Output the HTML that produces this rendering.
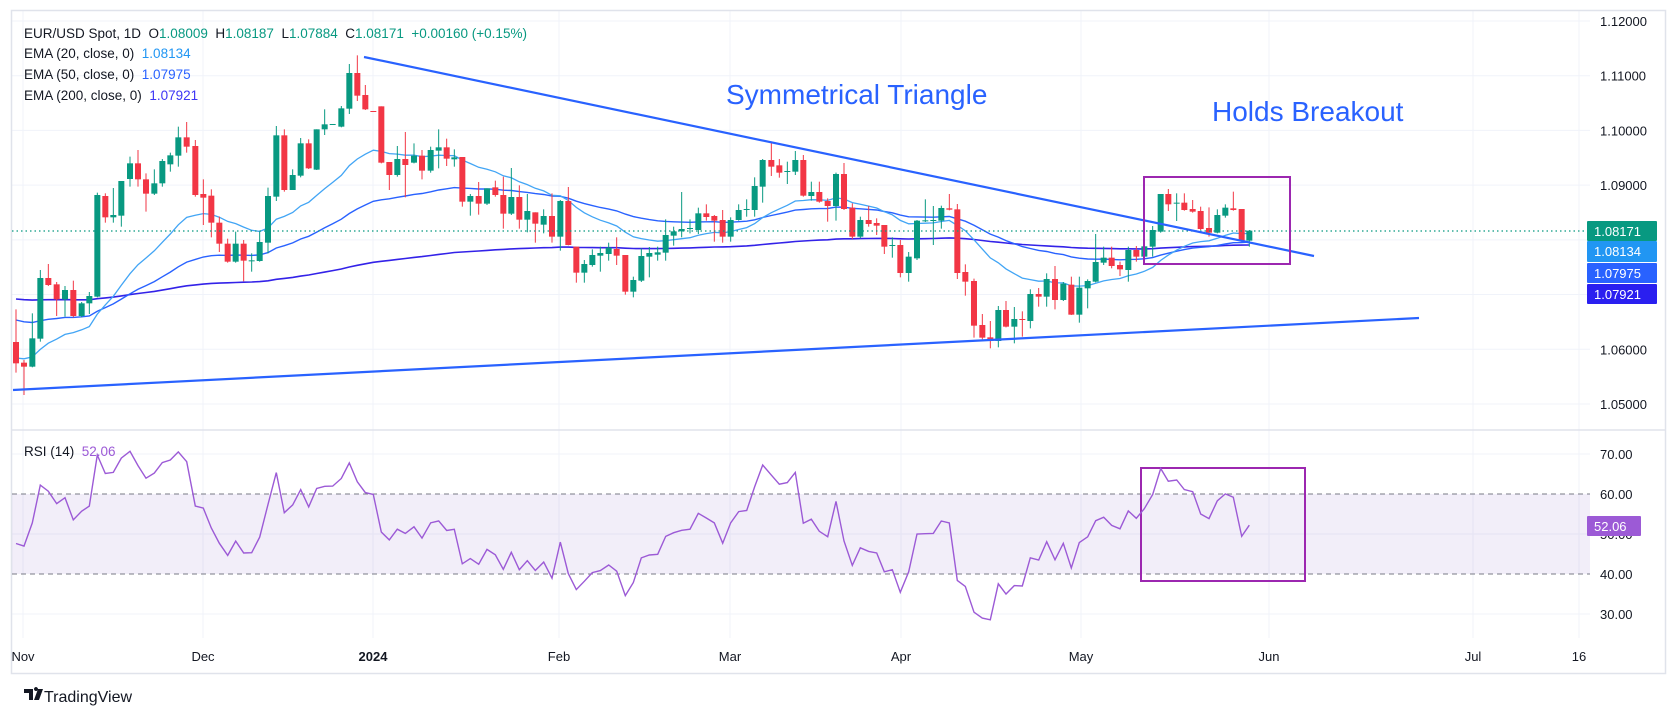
<!DOCTYPE html>
<html><head><meta charset="utf-8"><style>
html,body{margin:0;padding:0;background:#fff;}
body{width:1675px;height:718px;overflow:hidden;font-family:"Liberation Sans",sans-serif;}
svg text{font-family:"Liberation Sans",sans-serif;white-space:pre;}
</style></head><body>
<svg id="c" width="1675" height="718" xmlns="http://www.w3.org/2000/svg" xml:space="preserve">
<rect x="0" y="0" width="1675" height="718" fill="#fff"/>
<g id="grid" stroke="#f0f3fa" stroke-width="1"></g>
<rect x="11.5" y="10.5" width="1654" height="663" fill="none" stroke="#e0e3eb" stroke-width="1.5"/>
<line x1="12" y1="430" x2="1666" y2="430" stroke="#e0e3eb" stroke-width="1.5"/>
<rect x="12" y="494" width="1578" height="80" fill="#7e57c2" fill-opacity="0.1"/>
<line x1="12" y1="494" x2="1590" y2="494" stroke="#787b86" stroke-dasharray="5,4"/>
<line x1="12" y1="574" x2="1590" y2="574" stroke="#787b86" stroke-dasharray="5,4"/>
<g id="ema"></g>
<g id="candles"></g>
<line x1="12" y1="231" x2="1587" y2="231" stroke="#089981" stroke-dasharray="1.5,3" stroke-width="1.2"/>
<line x1="364" y1="57" x2="1314" y2="256" stroke="#2962ff" stroke-width="2.2"/>
<line x1="13" y1="390" x2="1419" y2="318" stroke="#2962ff" stroke-width="2.2"/>
<rect x="1144" y="177" width="146" height="87" fill="none" stroke="#9c27b0" stroke-width="2"/>
<rect x="1141" y="468" width="164" height="113" fill="none" stroke="#9c27b0" stroke-width="2"/>
<polyline id="rsi" fill="none" stroke="#9c5ad6" stroke-width="1.4"/>
<text x="726" y="104" font-size="28" fill="#2962ff">Symmetrical Triangle</text>
<text x="1212" y="121" font-size="28" fill="#2962ff">Holds Breakout</text>
<g font-size="13.5" fill="#131722">
<text x="24" y="38">EUR/USD Spot, 1D  O<tspan fill="#089981">1.08009</tspan>  H<tspan fill="#089981">1.08187</tspan>  L<tspan fill="#089981">1.07884</tspan>  C<tspan fill="#089981">1.08171</tspan>  <tspan fill="#089981">+0.00160 (+0.15%)</tspan></text>
<text x="24" y="58">EMA (20, close, 0)  <tspan fill="#2196f3">1.08134</tspan></text>
<text x="24" y="79">EMA (50, close, 0)  <tspan fill="#2962ff">1.07975</tspan></text>
<text x="24" y="100">EMA (200, close, 0)  <tspan fill="#3d35f5">1.07921</tspan></text>
<text x="24" y="456">RSI (14)  <tspan fill="#9c5ad6">52.06</tspan></text>
</g>
<g id="axis" font-size="13" fill="#131722"></g>
<g font-size="13" fill="#fff">
<rect x="1587" y="221" width="70" height="20" fill="#089981" rx="1"/><text x="1594" y="236">1.08171</text>
<rect x="1587" y="241" width="70" height="21" fill="#2196f3" rx="1"/><text x="1594" y="256">1.08134</text>
<rect x="1587" y="263" width="70" height="20" fill="#2962ff" rx="1"/><text x="1594" y="278">1.07975</text>
<rect x="1587" y="284" width="70" height="20" fill="#2a1ff0" rx="1"/><text x="1594" y="299">1.07921</text>
<rect x="1587" y="516" width="54" height="20" fill="#9c5ad6" rx="1"/><text x="1594" y="531">52.06</text>
</g>
<g transform="translate(24,689)"><path d="M0 0h9v11h-4v-7h-5z M10 11l4-11h5l-4 11z M10 0a2 2 0 1 1 0 .1" fill="#131722"/></g>
<text x="44" y="702" font-size="16" fill="#131722">TradingView</text>
</svg>
<script>
var NS="http://www.w3.org/2000/svg";
function el(t,a,p){var e=document.createElementNS(NS,t);for(var k in a)e.setAttribute(k,a[k]);p.appendChild(e);return e;}
var grid=document.getElementById('grid');
for(var k=0;k<8;k++){var y=21+k*54.71;el('line',{x1:12,y1:y,x2:1590,y2:y},grid);}
[454,534,614].forEach(function(y){el('line',{x1:12,y1:y,x2:1590,y2:y},grid);});
var mx=[[23,'Nov'],[203,'Dec'],[373,'2024'],[559,'Feb'],[730,'Mar'],[901,'Apr'],[1081,'May'],[1269,'Jun'],[1473,'Jul'],[1579,'16']];
var ax=document.getElementById('axis');
mx.forEach(function(m){el('line',{x1:m[0],y1:11,x2:m[0],y2:638},grid);var t=el('text',{x:m[0],y:661,'text-anchor':'middle'},ax);t.textContent=m[1];if(m[1]=='2024')t.setAttribute('font-weight','bold');});
var pl=['1.12000','1.11000','1.10000','1.09000','1.08000','1.07000','1.06000','1.05000'];
pl.forEach(function(s,i){var y=21+i*54.71;if(i==4||i==5)return;var t=el('text',{x:1600,y:y+5},ax);t.textContent=s;});
[[454,'70.00'],[494,'60.00'],[534,'50.00'],[574,'40.00'],[614,'30.00']].forEach(function(a){var t=el('text',{x:1600,y:a[0]+5},ax);t.textContent=a[1];});
var A=[[48,0,906,970,808,998],[72,0,968,980,960,1065],[97,1,895,980,820,982],[121,1,714,896,690,905],[145,0,714,735,672,738],[170,0,733,778,726,828],[195,1,750,778,738,830],[220,0,750,828,722,832],[245,1,790,828,786,832],[268,1,768,790,756,822],[292,1,465,770,458,772],[316,0,468,532,460,548],[340,1,525,532,444,548],[364,1,423,527,423,560],[390,1,370,417,350,440],[414,0,370,418,330,440],[438,0,418,461,400,515],[463,1,430,461,388,465],[487,1,363,430,357,440],[511,1,346,373,338,395],[535,1,292,347,260,380],[560,0,292,320,246,338],[586,0,318,465,300,470],[610,0,462,473,418,555],[634,0,467,548,448,592],[658,0,548,611,530,636],[683,0,611,665,596,668],[707,1,611,665,575,668],[731,0,611,662,600,724],[755,1,661,663,640,695],[779,1,606,663,575,665],[804,1,468,608,443,640],[829,1,286,470,258,483],[853,0,286,450,268,455],[878,1,405,450,388,450],[902,1,310,407,294,412],[926,0,310,385,298,387],[950,1,268,389,268,390],[974,1,253,268,208,285],[998,1,252,254,252,254],[1024,1,205,260,198,262],[1048,1,99,206,72,222],[1072,0,99,167,46,183],[1096,0,165,208,135,210],[1120,0,213,215,213,215],[1144,0,199,368,199,370],[1168,0,366,405,366,450],[1192,1,357,405,318,410],[1216,0,357,375,276,472],[1242,1,347,368,310,370],[1266,0,347,392,330,418],[1292,1,330,392,320,398],[1316,1,322,332,268,385],[1340,0,322,356,296,378]];
var B=[[73,1,172,178,148,200],[97,0,171,305,171,320],[121,1,288,305,282,347],[146,0,288,311,246,344],[171,1,265,311,265,315],[196,0,262,285,242,290],[220,0,285,341,230,386],[244,1,291,341,204,345],[268,0,291,359,256,386],[292,1,333,359,282,397],[316,0,337,371,337,428],[341,1,348,374,328,400],[366,0,348,410,280,428],[391,1,303,410,300,452],[415,0,303,435,261,436],[439,0,440,518,440,548],[463,1,492,518,480,548],[487,1,465,495,448,500],[511,1,459,467,440,515],[536,1,443,462,428,482],[560,0,447,467,412,495],[586,0,465,575,465,584],[610,1,540,575,530,592],[634,1,468,542,445,546],[658,1,459,470,441,532],[683,1,457,464,440,482],[707,1,405,458,358,482],[731,1,394,407,380,437],[755,1,387,394,276,412],[780,1,384,386,358,400],[805,1,340,390,323,402],[829,0,340,351,313,362],[853,0,348,362,345,425],[878,0,360,410,330,428],[902,1,360,410,352,425],[926,1,330,360,313,362],[950,1,327,329,298,350],[974,1,258,330,232,350],[998,1,180,260,177,308],[1024,0,180,200,125,228],[1048,0,196,218,177,233],[1072,1,213,215,185,252],[1096,1,180,215,153,225],[1120,0,180,287,165,290],[1144,1,276,288,245,302],[1168,0,276,305,245,308],[1193,0,303,318,295,365],[1218,1,222,318,218,362],[1242,0,222,327,189,330],[1267,0,323,410,310,417],[1291,1,360,410,350,415],[1316,0,360,372,318,380],[1340,0,369,377,355,405]];
var C=[[73,0,225,290,225,312],[97,1,285,287,262,323],[121,0,285,369,270,382],[146,1,320,369,306,395],[171,1,212,325,210,330],[196,1,211,213,148,216],[220,1,210,212,168,285],[244,1,174,212,167,236],[268,0,175,179,132,181],[292,0,178,369,162,387],[316,0,366,395,343,437],[342,0,393,527,386,563],[367,0,525,563,492,568],[391,0,562,573,513,595],[415,1,480,573,468,592],[438,0,480,530,453,532],[463,1,507,530,471,580],[487,0,507,509,484,560],[511,1,432,513,418,535],[536,0,432,440,414,470],[560,1,387,440,370,470],[585,0,387,450,348,478],[610,1,401,450,396,453],[634,0,404,494,380,495],[658,1,413,494,380,518],[683,1,393,415,388,475],[707,1,336,395,252,397],[731,1,323,338,290,345],[755,0,323,348,290,355],[780,0,345,358,335,378],[805,1,300,360,290,395],[829,0,300,320,288,335],[853,1,289,320,262,322],[878,1,240,290,228,320],[902,1,132,245,132,248],[925,0,132,163,117,183],[950,1,158,160,130,213],[973,0,158,180,130,182],[998,0,177,185,150,188],[1022,0,183,237,170,240],[1047,0,234,248,172,260],[1072,1,195,248,178,250],[1096,1,173,197,163,203],[1120,0,175,180,125,182],[1145,0,177,272,177,275],[1168,1,242,272,240,290]];
var bars=[];
function add(arr,x0,y0){arr.forEach(function(d){bars.push({x:x0+d[0]/3,g:d[1],t:y0+d[2]/3,b:y0+d[3]/3,h:y0+d[4]/3,l:y0+d[5]/3});});}
add(A,0,40);add(B,430,100);add(C,860,150);
var cg=document.getElementById('candles');
bars.forEach(function(b){var col=b.g?'#089981':'#f23645';
el('line',{x1:b.x,y1:b.h,x2:b.x,y2:b.l,stroke:col,'stroke-width':1},cg);
el('rect',{x:b.x-3,y:b.t,width:6,height:Math.max(1,b.b-b.t),fill:col},cg);});
var closes=bars.map(function(b){return b.g?b.t:b.b;});
function ema(n,init,col,w){var a=2/(n+1),v=init,pts=[];closes.forEach(function(c,i){v=i==0?init:v+a*(c-v);pts.push(bars[i].x.toFixed(1)+','+v.toFixed(1));});
el('polyline',{points:pts.join(' '),fill:'none',stroke:col,'stroke-width':w},document.getElementById('ema'));}
ema(200,299,'#3322e8',1.6);ema(50,320,'#2962ff',1.4);ema(20,358,'#42a5f5',1.3);
var ag=9,al=9.9,rp=[];
for(var i=0;i<closes.length;i++){if(i>0){var d=closes[i-1]-closes[i];var g=d>0?d:0,l=d<0?-d:0;ag=(ag*13+g)/14;al=(al*13+l)/14;}
var r=100-100/(1+ag/al);rp.push(bars[i].x.toFixed(1)+','+(454+(70-r)*4).toFixed(1));}
document.getElementById('rsi').setAttribute('points',rp.join(' '));
</script>
</body></html>
